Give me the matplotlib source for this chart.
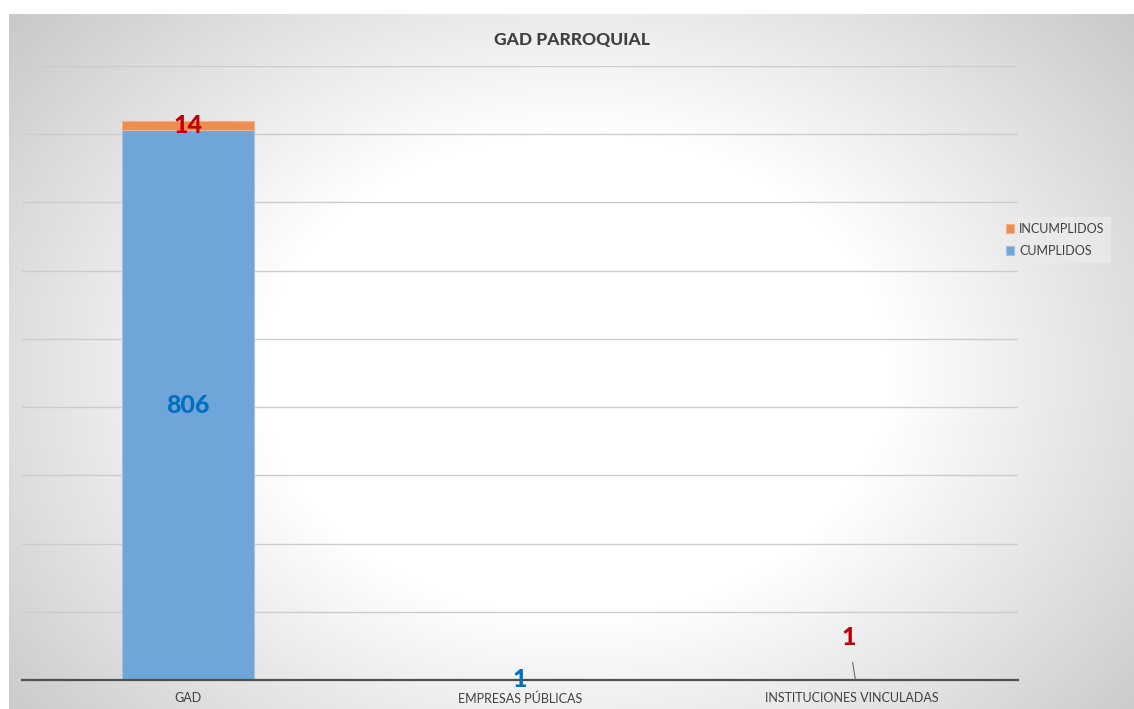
import numpy as np
import matplotlib.pyplot as plt
from matplotlib.colors import LinearSegmentedColormap

categories = ['GAD', 'EMPRESAS PÚBLICAS', 'INSTITUCIONES VINCULADAS']
cumplidos = [806, 1, 0]
incumplidos = [14, 0, 1]

plt.rcParams['font.family'] = ['Lato', 'DejaVu Sans']

W, H = 1134, 709
fig = plt.figure(figsize=(W / 100, H / 100), dpi=100)

# radial grey-to-white background of the chart area
bg = fig.add_axes([9 / W, 0, 1 - 9 / W, 1 - 14 / H])
bg.set_axis_off()
yy, xx = np.mgrid[0:695, 0:1125]
cx, cy = 566, 360
r = np.sqrt(((xx - cx) / 1.3) ** 2 + (yy - cy) ** 2)
t = np.clip((r - 240) / 340, 0, 1)
cmap = LinearSegmentedColormap.from_list('bg', ['#ffffff', '#c6c6c6'])
bg.imshow(t, cmap=cmap, aspect='auto', vmin=0, vmax=1, extent=[0, 1, 0, 1])
bg.set_xlim(0, 1)
bg.set_ylim(0, 1)

ax = fig.add_axes([22 / W, (H - 680) / H, (1018 - 22) / W, (680 - 66) / H])
ax.patch.set_alpha(0)

x = np.arange(len(categories))
ax.bar(x, cumplidos, width=0.4, color='#6fa5d8', edgecolor='#9fc4e8', linewidth=0.8,
       label='CUMPLIDOS', zorder=3)
ax.bar(x, incumplidos, width=0.4, bottom=cumplidos, color='#ed8d4e', edgecolor='#f3b086',
       linewidth=0.8, label='INCUMPLIDOS', zorder=3)

ax.set_xlim(-0.5, 2.5)
ax.set_ylim(0, 900)
ax.set_yticks(np.arange(0, 901, 100))
ax.yaxis.grid(True, color='#cccccc', linewidth=1.0, zorder=0)
ax.tick_params(axis='y', length=0, labelleft=False)
ax.set_xticks(x)
ax.set_xticklabels(categories, fontsize=9, color='#404040')
ax.tick_params(axis='x', length=0, pad=9)
for s in ['top', 'right', 'left']:
    ax.spines[s].set_visible(False)
ax.spines['bottom'].set_color('#505050')
ax.spines['bottom'].set_linewidth(1.6)
ax.spines['bottom'].set_zorder(4)

# data labels
lbl = dict(fontsize=18, fontweight='black', ha='center', va='center', zorder=5)
ax.text(x[0], cumplidos[0] / 2, str(cumplidos[0]), color='#0070c0', **lbl)
ax.text(x[0], cumplidos[0] + incumplidos[0] / 2, str(incumplidos[0]), color='#c00000', **lbl)
ax.text(x[1], cumplidos[1], str(cumplidos[1]), color='#0070c0', **lbl)
ax.annotate(str(incumplidos[2]), xy=(x[2] + 0.01, incumplidos[2]), xytext=(x[2] - 0.01, 63),
            color='#c00000',
            arrowprops=dict(arrowstyle='-', color='#595959', lw=0.7, shrinkA=8, shrinkB=0),
            **lbl)

fig.text(572 / W, 1 - 40 / H, 'GAD PARROQUIAL', fontsize=12.5, fontweight='black',
         color='#404040', ha='center', va='center')

handles, labels = ax.get_legend_handles_labels()
leg = fig.legend(handles[::-1], labels[::-1], loc='center left',
                 bbox_to_anchor=(993 / W, 1 - 240 / H), fontsize=9, frameon=True,
                 handlelength=0.7, handleheight=0.7, handletextpad=0.4, labelspacing=0.8,
                 borderpad=0.5, fancybox=False)
leg.get_frame().set_facecolor('#ebebeb')
leg.get_frame().set_edgecolor('none')
leg.get_frame().set_alpha(0.8)
for txt in leg.get_texts():
    txt.set_color('#404040')

fig.savefig('out.png', dpi=100)
